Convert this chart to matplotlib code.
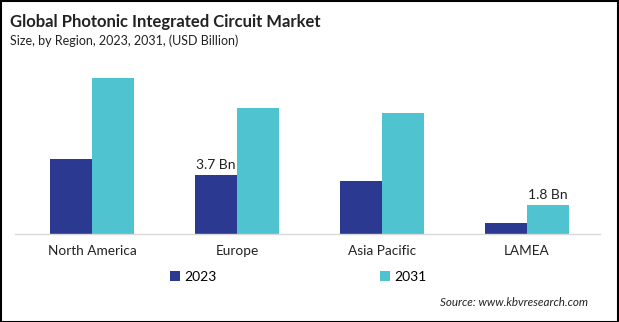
import numpy as np
import matplotlib
matplotlib.use("Agg")
from matplotlib import pyplot as plt
from matplotlib.patches import Rectangle

plt.rcParams['font.family'] = ['Lato', 'DejaVu Sans']

# data
regions = ['North America', 'Europe', 'Asia Pacific', 'LAMEA']
years = ['2023', '2031']
values_2023 = [4.7, 3.7, 3.3, 0.7]
values_2031 = [9.75, 7.9, 7.55, 1.8]
bar_labels_2023 = ['', '3.7 Bn', '', '']
bar_labels_2031 = ['', '', '', '1.8 Bn']

color_2023 = '#2b3990'
color_2031 = '#4fc3cf'

W, H = 619, 322
fig = plt.figure(figsize=(W / 100, H / 100), dpi=100)

# axes placed in pixel terms: baseline at y=234, x span 15..600
ax = fig.add_axes([15 / W, (H - 234) / H, 585 / W, 164 / H])
x = np.arange(len(regions))
width = 0.29

b1 = ax.bar(x - width / 2, values_2023, width, color=color_2023, label=years[0])
b2 = ax.bar(x + width / 2, values_2031, width, color=color_2031, label=years[1])

for rect, lab in zip(b1, bar_labels_2023):
    if lab:
        ax.annotate(lab, (rect.get_x() + rect.get_width() / 2, rect.get_height()),
                    xytext=(0, 3), textcoords='offset points', ha='center', va='bottom',
                    fontsize=10, color='#222222')
for rect, lab in zip(b2, bar_labels_2031):
    if lab:
        ax.annotate(lab, (rect.get_x() + rect.get_width() / 2, rect.get_height()),
                    xytext=(0, 3), textcoords='offset points', ha='center', va='bottom',
                    fontsize=10, color='#222222')

ax.set_xlim(-0.533, 3.503)
ax.set_ylim(0, 10.25)
ax.set_yticks([])
ax.set_xticks(x)
ax.set_xticklabels(regions, fontsize=9.8, color='#222222')
ax.tick_params(axis='x', length=0, pad=8)
for side in ['top', 'right', 'left']:
    ax.spines[side].set_visible(False)
ax.spines['bottom'].set_color('#d9d9d9')
ax.spines['bottom'].set_linewidth(1.0)

# title and subtitle
fig.text(10 / W, 1 - 22 / H, 'Global Photonic Integrated Circuit Market', fontsize=12,
         fontweight='bold', color='#222222', va='center', ha='left')
fig.text(10 / W, 1 - 41 / H, 'Size, by Region, 2023, 2031, (USD Billion)', fontsize=9,
         color='#222222', va='center', ha='left')

# legend
leg = fig.legend(handles=[b1, b2], labels=years, loc='center',
                 bbox_to_anchor=(298 / W, 1 - 277 / H), ncol=2, frameon=False,
                 fontsize=10, handlelength=0.7, handleheight=0.7,
                 handletextpad=0.3, columnspacing=11.8)

# source note
fig.text(588 / W, 1 - 302 / H, 'Source: www.kbvresearch.com', fontsize=8.4,
         style='italic', color='#222222', va='center', ha='right')

# border round the whole picture
fig.patches.append(Rectangle((0.5 / W, 0.5 / H), 1 - 1.5 / W, 1 - 1.5 / H,
                             transform=fig.transFigure, fill=False,
                             edgecolor='black', linewidth=1.5))

fig.savefig('out.png', dpi=100)
